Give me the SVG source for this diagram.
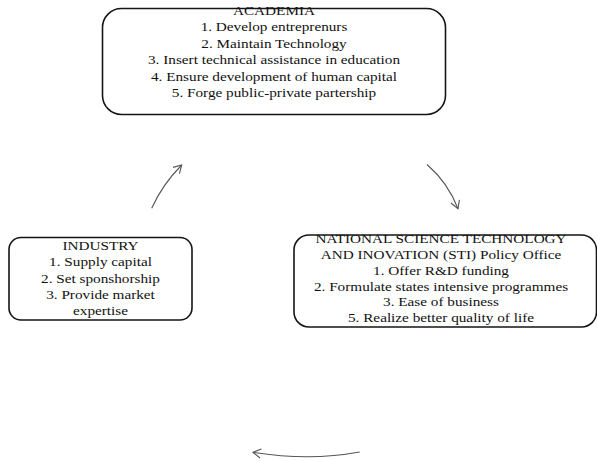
<svg xmlns="http://www.w3.org/2000/svg" width="597" height="461" viewBox="0 0 597 461">
  <style>
    .box { fill: #ffffff; stroke: #151515; stroke-width: 1.6; }
    .lbl { font-family: "Liberation Serif", "Times New Roman", serif; font-size: 12.6px; fill: #111111; text-anchor: middle; }
    .conn { fill: none; stroke: #555555; stroke-width: 1.1; }
  </style>
  <defs>
    <marker id="arrow" markerUnits="userSpaceOnUse" markerWidth="12" markerHeight="12" viewBox="-10 -6 12 12" refX="0" refY="0" orient="auto">
      <path d="M-7.8,-4.5 L0,0 L-7.8,4.5" fill="none" stroke="#555555" stroke-width="1.1"/>
    </marker>
  </defs>
  <rect width="597" height="461" fill="#ffffff"/>

  <g id="academia">
    <rect class="box" x="102.5" y="8.5" width="343" height="106" rx="19" ry="19"/>
    <g transform="translate(274,0) scale(1.21,1)">
      <text class="lbl" x="0" y="15">ACADEMIA</text>
      <text class="lbl" x="0" y="31.5">1. Develop entreprenurs</text>
      <text class="lbl" x="0" y="48">2. Maintain Technology</text>
      <text class="lbl" x="0" y="64.5">3. Insert technical assistance in education</text>
      <text class="lbl" x="0" y="81">4. Ensure development of human capital</text>
      <text class="lbl" x="0" y="97.5">5. Forge public-private partership</text>
    </g>
  </g>

  <g id="industry">
    <rect class="box" x="9" y="237.5" width="183" height="82.5" rx="12" ry="12"/>
    <g transform="translate(100.5,0) scale(1.21,1)">
      <text class="lbl" x="0" y="250.5">INDUSTRY</text>
      <text class="lbl" x="0" y="266.5">1. Supply capital</text>
      <text class="lbl" x="0" y="283">2. Set sponshorship</text>
      <text class="lbl" x="0" y="299.5">3. Provide market</text>
      <text class="lbl" x="0" y="315">expertise</text>
    </g>
  </g>

  <g id="sti-office">
    <rect class="box" x="294" y="235" width="302.5" height="92" rx="15" ry="15"/>
    <g transform="translate(441,0) scale(1.21,1)">
      <text class="lbl" x="0" y="243.5">NATIONAL SCIENCE TECHNOLOGY</text>
      <text class="lbl" x="0" y="259">AND INOVATION (STI) Policy Office</text>
      <text class="lbl" x="0" y="275">1. Offer R&amp;D funding</text>
      <text class="lbl" x="0" y="291">2. Formulate states intensive programmes</text>
      <text class="lbl" x="0" y="306.5">3. Ease of business</text>
      <text class="lbl" x="0" y="322">5. Realize better quality of life</text>
    </g>
  </g>

  <g id="connectors">
    <path class="conn" d="M151.7,208.3 Q162,185 181.7,165" marker-end="url(#arrow)"/>
    <path class="conn" d="M427,164.5 Q448,182.7 458,208.7" marker-end="url(#arrow)"/>
    <path class="conn" d="M359.7,452 Q309.6,461.2 253,452.3" marker-end="url(#arrow)"/>
  </g>
</svg>
